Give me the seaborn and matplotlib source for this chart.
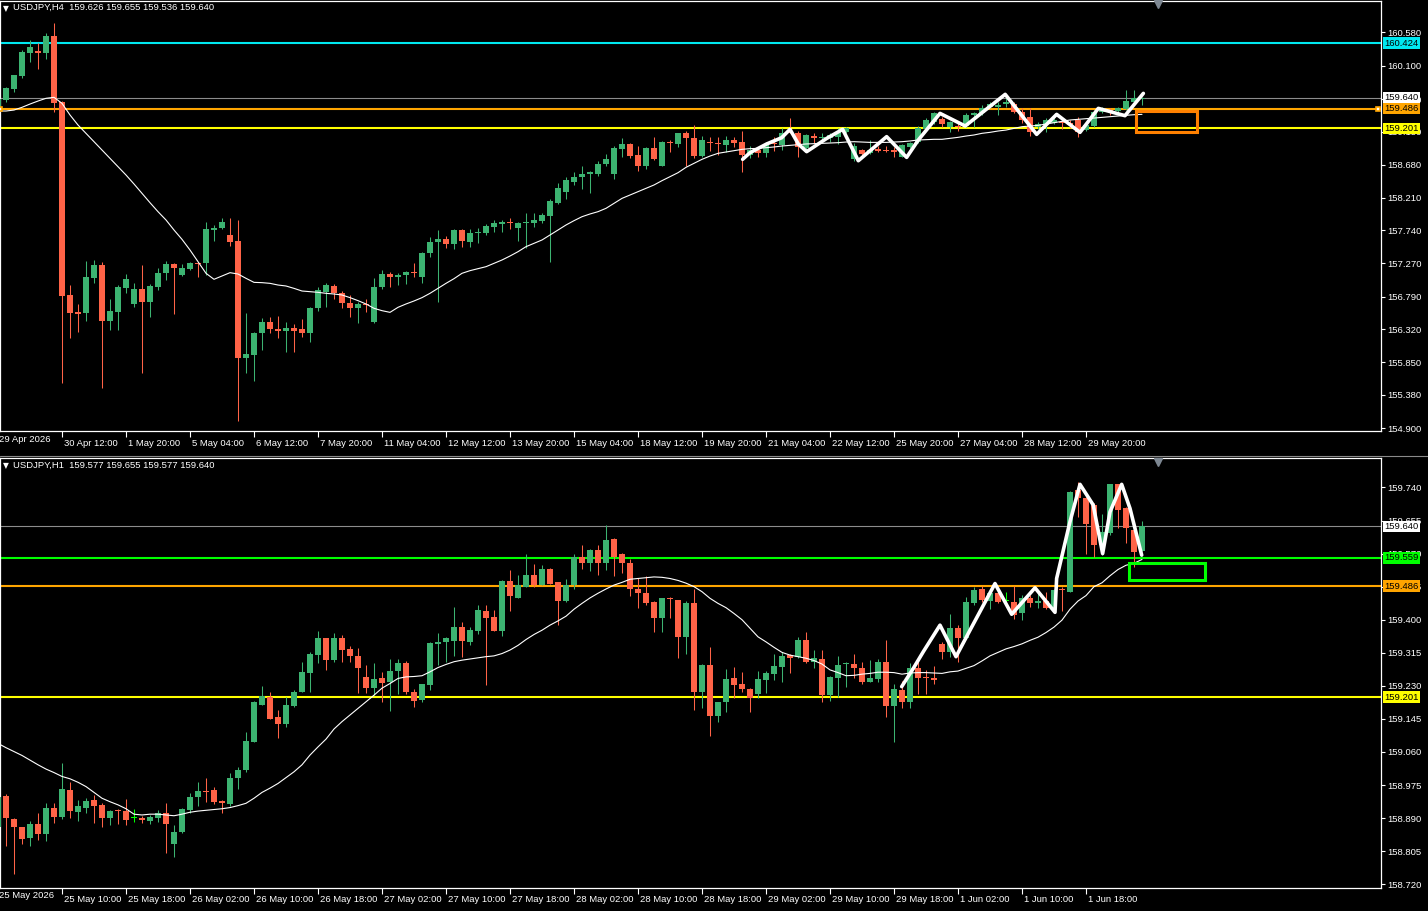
import numpy as np
import pandas as pd
import matplotlib
matplotlib.use("Agg")
import matplotlib.pyplot as plt
import matplotlib.transforms as mtransforms
from matplotlib.patches import Rectangle
import seaborn as sns

# ---------------- DATA ----------------
h4_title = "USDJPY,H4  159.626 159.655 159.536 159.640"
h1_title = "USDJPY,H1  159.577 159.655 159.577 159.640"

h4_open = [
159.470, 159.609, 159.762, 159.953, 160.288, 160.312, 160.288, 160.527, 159.585, 156.812,
156.568, 156.558, 157.060, 157.242, 156.444, 156.573, 156.917, 156.683, 156.898, 156.716,
156.931, 157.123, 157.256, 157.099, 157.190, 157.266, 157.266, 157.744, 157.778, 157.672,
157.586, 155.913, 155.951, 156.262, 156.420, 156.324, 156.300, 156.334, 156.324, 156.272,
156.621, 156.860, 156.946, 156.836, 156.692, 156.621, 156.683, 156.429, 156.922, 157.113,
157.075, 157.099, 157.142, 157.065, 157.409, 157.567, 157.615, 157.538, 157.744, 157.567,
157.696, 157.706, 157.792, 157.830, 157.854, 157.778, 157.840, 157.849, 157.873, 157.950,
158.136, 158.294, 158.437, 158.500, 158.547, 158.547, 158.691, 158.547, 158.906, 158.978,
158.820, 158.662, 158.925, 158.662, 159.006, 158.978, 159.131, 159.059, 158.810, 158.997,
158.987, 158.963, 159.035, 159.006, 158.820, 158.892, 158.853, 158.997, 158.963, 159.155,
159.140, 158.915, 159.097, 159.064, 159.059, 159.083, 159.155, 158.758, 158.892, 158.844,
158.901, 158.892, 158.892, 158.796, 158.939, 159.011, 159.197, 159.298, 159.336, 159.226,
159.236, 159.236, 159.394, 159.417, 159.504, 159.513, 159.552, 159.552, 159.441, 159.360,
159.226, 159.265, 159.284, 159.298, 159.274, 159.322, 159.178, 159.236, 159.441, 159.465,
159.456, 159.480, 159.585, 159.626]
h4_high = [
159.660, 159.790, 159.970, 160.326, 160.469, 160.421, 160.575, 160.718, 159.590, 156.955,
156.683, 157.299, 157.314, 157.290, 156.754, 156.950, 157.113, 156.979, 157.242, 156.970,
157.204, 157.304, 157.276, 157.252, 157.290, 157.285, 157.854, 157.816, 157.911, 157.911,
157.888, 156.549, 156.286, 156.477, 156.501, 156.510, 156.429, 156.396, 156.463, 156.645,
156.931, 156.979, 156.970, 156.870, 156.812, 156.707, 156.754, 157.060, 157.170, 157.147,
157.132, 157.161, 157.266, 157.433, 157.639, 157.744, 157.658, 157.754, 157.754, 157.754,
157.768, 157.830, 157.888, 157.888, 157.911, 157.864, 157.983, 157.983, 157.993, 158.184,
158.423, 158.509, 158.576, 158.662, 158.586, 158.734, 158.834, 158.949, 159.059, 158.997,
158.949, 158.939, 159.083, 159.025, 159.035, 159.140, 159.169, 159.250, 159.092, 159.083,
159.083, 159.092, 159.083, 159.164, 158.949, 158.939, 159.011, 159.083, 159.202, 159.346,
159.169, 159.121, 159.140, 159.131, 159.131, 159.202, 159.226, 158.987, 158.901, 159.035,
158.954, 158.954, 158.939, 158.978, 159.011, 159.236, 159.350, 159.440, 159.370, 159.312,
159.274, 159.427, 159.437, 159.537, 159.585, 159.585, 159.666, 159.585, 159.489, 159.489,
159.290, 159.346, 159.346, 159.322, 159.322, 159.360, 159.274, 159.465, 159.504, 159.489,
159.504, 159.752, 159.752, 159.655]
h4_low = [
159.440, 159.585, 159.728, 159.929, 160.158, 160.053, 160.202, 159.441, 155.545, 156.190,
156.286, 156.444, 156.979, 155.473, 156.310, 156.310, 156.836, 156.645, 155.688, 156.501,
156.883, 157.027, 156.535, 157.085, 157.170, 157.065, 157.094, 157.591, 157.763, 157.519,
155.010, 155.698, 155.583, 156.023, 156.272, 156.200, 155.999, 156.000, 156.214, 156.142,
156.587, 156.645, 156.754, 156.621, 156.501, 156.415, 156.573, 156.415, 156.898, 156.931,
156.955, 156.965, 157.075, 156.989, 157.362, 156.716, 157.481, 157.466, 157.495, 157.505,
157.553, 157.668, 157.720, 157.720, 157.763, 157.591, 157.481, 157.792, 157.849, 157.280,
158.117, 158.189, 158.390, 158.337, 158.280, 158.519, 158.662, 158.480, 158.796, 158.772,
158.595, 158.624, 158.748, 158.662, 158.868, 158.939, 158.662, 158.772, 158.796, 158.882,
158.815, 158.868, 158.939, 158.581, 158.772, 158.796, 158.796, 158.882, 158.892, 159.131,
158.796, 158.868, 158.997, 159.011, 159.001, 158.978, 159.131, 158.738, 158.786, 158.834,
158.868, 158.868, 158.796, 158.786, 158.915, 158.987, 159.170, 159.270, 159.226, 159.155,
159.169, 159.226, 159.226, 159.394, 159.489, 159.394, 159.513, 159.417, 159.274, 159.092,
159.200, 159.155, 159.265, 159.188, 159.202, 159.083, 159.169, 159.226, 159.427, 159.394,
159.417, 159.465, 159.585, 159.536]
h4_close = [
159.630, 159.776, 159.967, 160.302, 160.374, 160.288, 160.527, 159.570, 156.802, 156.558,
156.544, 157.075, 157.242, 156.444, 156.582, 156.931, 157.046, 156.898, 156.716, 156.941,
157.123, 157.252, 157.194, 157.204, 157.266, 157.256, 157.754, 157.773, 157.854, 157.577,
155.913, 155.961, 156.262, 156.420, 156.324, 156.300, 156.334, 156.300, 156.272, 156.621,
156.883, 156.955, 156.836, 156.692, 156.621, 156.683, 156.669, 156.931, 157.113, 157.075,
157.099, 157.142, 157.132, 157.409, 157.567, 157.615, 157.538, 157.744, 157.591, 157.696,
157.720, 157.802, 157.849, 157.854, 157.840, 157.849, 157.864, 157.888, 157.959, 158.165,
158.342, 158.461, 158.500, 158.547, 158.571, 158.691, 158.758, 158.925, 158.978, 158.810,
158.662, 158.925, 158.762, 159.011, 158.987, 159.131, 159.059, 158.810, 159.035, 158.987,
158.978, 159.035, 158.987, 158.820, 158.892, 158.853, 158.978, 158.978, 159.140, 159.140,
158.939, 159.107, 159.059, 159.083, 159.107, 159.155, 159.212, 158.954, 158.834, 158.892,
158.882, 158.882, 158.868, 158.958, 158.987, 159.202, 159.322, 159.417, 159.265, 159.289,
159.217, 159.394, 159.417, 159.489, 159.552, 159.537, 159.585, 159.441, 159.322, 159.155,
159.265, 159.322, 159.322, 159.274, 159.250, 159.155, 159.250, 159.441, 159.489, 159.441,
159.489, 159.599, 159.642, 159.640]
h4_ma = [
159.451, 159.451, 159.465, 159.504, 159.551, 159.594, 159.633, 159.647, 159.561, 159.394,
159.250, 159.131, 159.011, 158.892, 158.772, 158.652, 158.533, 158.404, 158.270, 158.136,
158.007, 157.888, 157.744, 157.610, 157.457, 157.290, 157.123, 157.037, 157.085, 157.132,
157.113, 157.051, 156.993, 156.989, 156.979, 156.955, 156.941, 156.907, 156.869, 156.860,
156.850, 156.836, 156.826, 156.812, 156.774, 156.731, 156.683, 156.621, 156.587, 156.563,
156.635, 156.683, 156.726, 156.774, 156.836, 156.907, 156.979, 157.046, 157.123, 157.161,
157.190, 157.218, 157.266, 157.314, 157.371, 157.433, 157.505, 157.553, 157.601, 157.672,
157.744, 157.816, 157.878, 157.935, 157.974, 158.007, 158.055, 158.127, 158.198, 158.246,
158.294, 158.342, 158.390, 158.452, 158.509, 158.566, 158.643, 158.700, 158.758, 158.805,
158.844, 158.863, 158.882, 158.901, 158.911, 158.915, 158.925, 158.935, 158.949, 158.958,
158.968, 158.978, 158.982, 158.987, 158.992, 158.997, 159.006, 159.011, 159.006, 159.001,
159.001, 159.001, 159.006, 159.011, 159.021, 159.035, 159.040, 159.045, 159.045, 159.059,
159.073, 159.092, 159.107, 159.131, 159.145, 159.164, 159.178, 159.202, 159.226, 159.236,
159.245, 159.264, 159.284, 159.303, 159.322, 159.331, 159.341, 159.350, 159.360, 159.370,
159.379, 159.389, 159.398, 159.403]

h1_open = [
158.868, 158.948, 158.888, 158.868, 158.838, 158.875, 158.849, 158.917, 158.894, 158.962,
158.905, 158.917, 158.937, 158.924, 158.891, 158.910, 158.907, 158.891, 158.891, 158.883,
158.891, 158.902, 158.823, 158.853, 158.911, 158.945, 158.960, 158.962, 158.934, 158.926,
158.992, 159.014, 159.085, 159.182, 159.202, 159.149, 159.132, 159.179, 159.215, 159.262,
159.309, 159.352, 159.296, 159.352, 159.325, 159.307, 159.253, 159.224, 159.249, 159.241,
159.269, 159.288, 159.215, 159.194, 159.232, 159.337, 159.343, 159.345, 159.382, 159.343,
159.371, 159.422, 159.406, 159.372, 159.499, 159.457, 159.485, 159.515, 159.489, 159.530,
159.496, 159.448, 159.489, 159.562, 159.547, 159.579, 159.547, 159.607, 159.569, 159.547,
159.480, 159.468, 159.446, 159.405, 159.457, 159.451, 159.356, 159.442, 159.215, 159.283,
159.153, 159.188, 159.249, 159.234, 159.222, 159.209, 159.245, 159.260, 159.279, 159.309,
159.305, 159.348, 159.290, 159.299, 159.206, 159.251, 159.285, 159.285, 159.277, 159.241,
159.247, 159.290, 159.179, 159.219, 159.188, 159.275, 159.253, 159.249, 159.337, 159.318,
159.378, 159.352, 159.442, 159.479, 159.448, 159.468, 159.447, 159.446, 159.416, 159.455,
159.442, 159.448, 159.431, 159.480, 159.472, 159.733, 159.712, 159.695, 159.592, 159.622,
159.748, 159.686, 159.630, 159.577]
h1_high = [
158.950, 158.951, 158.891, 158.868, 158.883, 158.902, 158.928, 158.928, 159.031, 158.984,
158.937, 158.941, 158.950, 158.928, 158.911, 158.914, 158.939, 158.914, 158.896, 158.898,
158.911, 158.928, 158.871, 158.915, 158.954, 158.982, 158.992, 158.971, 158.937, 159.005,
159.022, 159.112, 159.191, 159.230, 159.213, 159.168, 159.202, 159.219, 159.290, 159.318,
159.371, 159.352, 159.367, 159.360, 159.333, 159.326, 159.283, 159.288, 159.266, 159.299,
159.299, 159.294, 159.221, 159.236, 159.342, 159.367, 159.356, 159.433, 159.393, 159.382,
159.438, 159.438, 159.425, 159.502, 159.528, 159.515, 159.569, 159.542, 159.540, 159.532,
159.498, 159.504, 159.569, 159.592, 159.583, 159.592, 159.643, 159.611, 159.572, 159.557,
159.506, 159.513, 159.448, 159.457, 159.459, 159.451, 159.448, 159.480, 159.285, 159.329,
159.189, 159.273, 159.279, 159.265, 159.224, 159.268, 159.268, 159.313, 159.316, 159.311,
159.356, 159.369, 159.322, 159.322, 159.256, 159.307, 159.292, 159.311, 159.292, 159.296,
159.299, 159.348, 159.236, 159.242, 159.288, 159.292, 159.271, 159.282, 159.343, 159.414,
159.386, 159.459, 159.485, 159.487, 159.474, 159.472, 159.472, 159.487, 159.463, 159.463,
159.472, 159.472, 159.480, 159.485, 159.731, 159.753, 159.716, 159.699, 159.673, 159.750,
159.750, 159.690, 159.636, 159.655]
h1_low = [
158.860, 158.819, 158.746, 158.823, 158.819, 158.834, 158.832, 158.877, 158.888, 158.891,
158.883, 158.902, 158.877, 158.868, 158.871, 158.875, 158.871, 158.881, 158.877, 158.875,
158.879, 158.800, 158.791, 158.852, 158.902, 158.922, 158.932, 158.926, 158.902, 158.922,
158.965, 159.008, 159.085, 159.180, 159.145, 159.097, 159.125, 159.175, 159.213, 159.213,
159.288, 159.271, 159.290, 159.290, 159.290, 159.211, 159.211, 159.206, 159.188, 159.166,
159.208, 159.208, 159.176, 159.189, 159.219, 159.283, 159.290, 159.307, 159.305, 159.335,
159.362, 159.232, 159.372, 159.358, 159.422, 159.456, 159.483, 159.483, 159.489, 159.491,
159.386, 159.446, 159.479, 159.530, 159.526, 159.515, 159.528, 159.513, 159.519, 159.462,
159.431, 159.438, 159.369, 159.369, 159.405, 159.302, 159.311, 159.168, 159.172, 159.102,
159.138, 159.164, 159.198, 159.213, 159.162, 159.198, 159.211, 159.245, 159.241, 159.262,
159.302, 159.288, 159.275, 159.188, 159.192, 159.202, 159.226, 159.251, 159.236, 159.239,
159.241, 159.151, 159.085, 159.172, 159.172, 159.208, 159.208, 159.236, 159.299, 159.305,
159.290, 159.350, 159.438, 159.446, 159.427, 159.442, 159.442, 159.402, 159.399, 159.433,
159.431, 159.427, 159.429, 159.422, 159.472, 159.665, 159.570, 159.562, 159.566, 159.617,
159.636, 159.596, 159.536, 159.577]
h1_close = [
158.945, 158.890, 158.866, 158.836, 158.875, 158.849, 158.917, 158.894, 158.965, 158.907,
158.920, 158.934, 158.922, 158.891, 158.908, 158.908, 158.885, 158.891, 158.885, 158.894,
158.902, 158.875, 158.853, 158.914, 158.945, 158.960, 158.958, 158.932, 158.928, 158.994,
159.014, 159.087, 159.189, 159.205, 159.146, 159.132, 159.181, 159.215, 159.265, 159.311,
159.352, 159.296, 159.352, 159.322, 159.307, 159.277, 159.224, 159.248, 159.238, 159.269,
159.288, 159.213, 159.192, 159.234, 159.339, 159.342, 159.352, 159.382, 159.346, 159.373,
159.425, 159.405, 159.372, 159.499, 159.462, 159.489, 159.515, 159.489, 159.530, 159.491,
159.449, 159.489, 159.562, 159.547, 159.579, 159.547, 159.605, 159.562, 159.547, 159.480,
159.468, 159.442, 159.405, 159.455, 159.453, 159.356, 159.442, 159.215, 159.283, 159.153,
159.188, 159.248, 159.232, 159.222, 159.198, 159.248, 159.262, 159.282, 159.307, 159.302,
159.348, 159.290, 159.302, 159.206, 159.253, 159.283, 159.289, 159.277, 159.241, 159.249,
159.290, 159.179, 159.222, 159.188, 159.275, 159.251, 159.249, 159.245, 159.318, 159.378,
159.352, 159.446, 159.476, 159.451, 159.468, 159.446, 159.447, 159.412, 159.455, 159.442,
159.448, 159.431, 159.476, 159.476, 159.729, 159.712, 159.647, 159.592, 159.626, 159.750,
159.682, 159.635, 159.575, 159.640]
h1_ma = [
159.082, 159.071, 159.061, 159.051, 159.039, 159.027, 159.016, 159.007, 158.997, 158.991,
158.982, 158.971, 158.956, 158.941, 158.932, 158.924, 158.914, 158.900, 158.898, 158.900,
158.900, 158.898, 158.896, 158.900, 158.905, 158.908, 158.910, 158.912, 158.914, 158.917,
158.922, 158.928, 158.941, 158.956, 158.967, 158.979, 158.994, 159.009, 159.027, 159.052,
159.073, 159.093, 159.119, 159.138, 159.155, 159.172, 159.189, 159.206, 159.224, 159.236,
159.249, 159.253, 159.254, 159.256, 159.266, 159.277, 159.285, 159.292, 159.296, 159.299,
159.302, 159.305, 159.307, 159.313, 159.322, 159.334, 159.349, 159.362, 159.373, 159.386,
159.397, 159.409, 159.427, 159.442, 159.456, 159.468, 159.479, 159.489, 159.496, 159.504,
159.506, 159.508, 159.510, 159.509, 159.506, 159.501, 159.494, 159.485, 159.472, 159.455,
159.442, 159.431, 159.416, 159.400, 159.378, 159.356, 159.343, 159.329, 159.316, 159.309,
159.305, 159.301, 159.295, 159.286, 159.271, 159.264, 159.256, 159.257, 159.260, 159.262,
159.265, 159.265, 159.264, 159.260, 159.263, 159.264, 159.264, 159.263, 159.262, 159.266,
159.268, 159.275, 159.282, 159.294, 159.307, 159.316, 159.325, 159.331, 159.338, 159.347,
159.355, 159.367, 159.381, 159.399, 159.427, 159.448, 159.462, 159.485, 159.495, 159.513,
159.529, 159.540, 159.545, 159.555]

# hand-drawn zigzag annotations (bar index, price)
h4_zz_x = [93.08, 94.0, 96.08, 97.96, 99.0, 100.04, 101.08, 103.6, 105.58, 107.54, 111.08,
           113.58, 115.04, 117.75, 120.9, 125.9, 129.83, 132.33, 135.25, 137.54, 140.875, 143.17]
h4_zz_y = [158.758, 158.853, 158.978, 159.068, 159.188, 158.978, 158.868, 159.059, 159.188,
           158.738, 159.083, 158.786, 159.035, 159.417, 159.236, 159.690, 159.116, 159.403,
           159.145, 159.489, 159.384, 159.704]
h1_zz_x = [112.96, 114.42, 115.67, 117.75, 119.75, 121.5, 124.625, 126.71, 129.625, 132.125,
           132.33, 134.0, 135.25, 136.9, 138.08, 139.0, 140.46, 141.5, 142.96]
h1_zz_y = [159.228, 159.275, 159.318, 159.386, 159.305, 159.373, 159.493, 159.414, 159.482,
           159.419, 159.506, 159.652, 159.748, 159.695, 159.570, 159.677, 159.748, 159.686,
           159.566]

# rectangles: (x0, x1, y0, y1)
h4_box = (142.3, 149.9, 159.155, 159.451)
h1_box = (141.4, 150.9, 159.502, 159.545)

# horizontal levels
bid_price = 159.640
h4_levels = [160.424, 159.486, 159.201]
h4_level_labels = ["160.424", "159.486", "159.201"]
h1_levels = [159.559, 159.486, 159.201]
h1_level_labels = ["159.559", "159.486", "159.201"]

h4_yticks = [154.900, 155.380, 155.850, 156.320, 156.790, 157.270, 157.740, 158.210,
             158.680, 159.150, 159.620, 160.100, 160.580]
h1_yticks = [158.720, 158.805, 158.890, 158.975, 159.060, 159.145, 159.230, 159.315,
             159.400, 159.485, 159.570, 159.655, 159.740]

h4_xtick_pos = [8, 16, 24, 32, 40, 48, 56, 64, 72, 80, 88, 96, 104, 112, 120, 128, 136]
h4_xtick_lab = ["30 Apr 12:00", "1 May 20:00", "5 May 04:00", "6 May 12:00", "7 May 20:00",
                "11 May 04:00", "12 May 12:00", "13 May 20:00", "15 May 04:00", "18 May 12:00",
                "19 May 20:00", "21 May 04:00", "22 May 12:00", "25 May 20:00", "27 May 04:00",
                "28 May 12:00", "29 May 20:00"]
h4_first_label = "29 Apr 2026"
h1_xtick_pos = [8, 16, 24, 32, 40, 48, 56, 64, 72, 80, 88, 96, 104, 112, 120, 128, 136]
h1_xtick_lab = ["25 May 10:00", "25 May 18:00", "26 May 02:00", "26 May 10:00", "26 May 18:00",
                "27 May 02:00", "27 May 10:00", "27 May 18:00", "28 May 02:00", "28 May 10:00",
                "28 May 18:00", "29 May 02:00", "29 May 10:00", "29 May 18:00", "1 Jun 02:00",
                "1 Jun 10:00", "1 Jun 18:00"]
h1_first_label = "25 May 2026"

# ---------------- STYLE ----------------
sns.set_theme(style="dark")
plt.rcParams['font.family'] = ['Liberation Sans', 'DejaVu Sans']
plt.rcParams['axes.facecolor'] = 'black'
plt.rcParams['figure.facecolor'] = 'black'

UP = '#3CB371'
DN = '#FF6347'
DOJI = '#00FF00'
FS = 6.8

W, H = 1428, 911
fig = plt.figure(figsize=(W / 100, H / 100), dpi=100, facecolor='black')


def px_axes(x0, y0, x1, y1):
    return fig.add_axes([x0 / W, 1 - y1 / H, (x1 - x0) / W, (y1 - y0) / H])


ax1 = px_axes(0, 1, 1381, 431)
ax2 = px_axes(0, 458.3, 1381, 887.7)


def draw_panel(ax, o, h, l, c, ma, ylim, yticks, xpos, xlab, first_lab, title,
               zzx, zzy, box, box_color, levels, level_colors, level_labels, level_text_colors):
    o, h, l, c = map(np.asarray, (o, h, l, c))
    idx = np.arange(len(o))
    ax.set_facecolor('black')
    ax.set_xlim(0.25, 172.875)
    ax.set_ylim(*ylim)
    px = (ylim[1] - ylim[0]) / 430.0
    cols = np.where(c > o, UP, np.where(c < o, DN, DOJI))
    # horizontal levels
    ax.axhline(bid_price, color='#8c8c8c', lw=0.8, zorder=1)
    for lv, lc in zip(levels, level_colors):
        ax.axhline(lv, color=lc, lw=1.5, zorder=2)
    # wicks
    ax.vlines(idx, l, h, colors=cols, lw=0.75, zorder=3)
    # bodies
    bottoms = np.minimum(o, c)
    heights = np.maximum(np.abs(c - o), px)
    ax.bar(idx, heights, bottom=bottoms, width=0.64, color=cols, linewidth=0, zorder=4)
    # moving average
    sns.lineplot(x=idx, y=np.asarray(ma), ax=ax, color='white', lw=0.8, zorder=5,
                 legend=False)
    # zigzag
    sns.lineplot(x=np.asarray(zzx), y=np.asarray(zzy), ax=ax, color='white', lw=2.6,
                 sort=False, zorder=6, legend=False, solid_capstyle='round',
                 solid_joinstyle='round')
    # rectangle
    ax.add_patch(Rectangle((box[0], box[2]), box[1] - box[0], box[3] - box[2], fill=False,
                           edgecolor=box_color, lw=2.2, zorder=6))
    # axes styling
    ax.grid(False)
    ax.set_xlabel('')
    ax.set_ylabel('')
    for sp in ax.spines.values():
        sp.set_color('white')
        sp.set_linewidth(0.9)
        sp.set_visible(True)
    ax.yaxis.tick_right()
    ax.set_yticks(yticks)
    ax.set_yticklabels([f"{v:.3f}" for v in yticks])
    ax.tick_params(axis='y', which='both', right=True, left=False, direction='out', length=3,
                   width=0.8, color='white', labelcolor='white', labelsize=FS, pad=1.5)
    ax.set_xticks(xpos)
    ax.set_xticklabels(xlab)
    ax.tick_params(axis='x', which='both', bottom=True, direction='out', length=4, width=0.8,
                   color='white', labelcolor='white', labelsize=FS, pad=1.5)
    offs = mtransforms.ScaledTranslation(2 / 100, 0, fig.dpi_scale_trans)
    for t in ax.get_xticklabels():
        t.set_horizontalalignment('left')
        t.set_transform(t.get_transform() + offs)
    tr_x = ax.get_xaxis_transform()
    ax.text(-0.001, -0.0085, first_lab, transform=ax.transAxes, ha='left', va='top',
            color='white', fontsize=FS, clip_on=False)
    # title
    ax.text(0.0025, 0.993, "\u25BC", transform=ax.transAxes, ha='left', va='top',
            color='white', fontsize=5.5, family='DejaVu Sans')
    ax.text(0.0094, 0.995, title, transform=ax.transAxes, ha='left', va='top',
            color='white', fontsize=FS)
    # chart shift marker
    ax.plot([145.0], [0.992], marker='v', color='#7d8792', markersize=6,
            transform=tr_x, clip_on=False, zorder=7)
    # price label boxes on the right
    tr = mtransforms.blended_transform_factory(ax.transAxes, ax.transData)
    lab_vals = [bid_price] + list(levels)
    lab_cols = ['white'] + list(level_colors)
    lab_txt = [f"{bid_price:.3f}"] + list(level_labels)
    for v, bc, tx, tc in zip(lab_vals, lab_cols, lab_txt, ['black'] + list(level_text_colors)):
        ax.text(1.0026, v, tx, transform=tr, ha='left', va='center', color=tc, fontsize=FS,
                bbox=dict(boxstyle='square,pad=0.14', fc=bc, ec='none'), clip_on=False,
                zorder=10)


draw_panel(ax1, h4_open, h4_high, h4_low, h4_close, h4_ma, (154.861, 161.029), h4_yticks,
           h4_xtick_pos, h4_xtick_lab, h4_first_label, h4_title, h4_zz_x, h4_zz_y,
           h4_box, '#FF8000', h4_levels, ['#00E8F0', '#FFA500', '#FFFF00'],
           h4_level_labels, ['black', 'black', 'black'])
draw_panel(ax2, h1_open, h1_high, h1_low, h1_close, h1_ma, (158.711, 159.815), h1_yticks,
           h1_xtick_pos, h1_xtick_lab, h1_first_label, h1_title, h1_zz_x, h1_zz_y,
           h1_box, '#00FF00', h1_levels, ['#00FF00', '#FFA500', '#FFFF00'],
           h1_level_labels, ['black', 'black', 'black'])

# line anchors on the orange level (top panel)
ax1.plot([0.3, 172.5], [159.486, 159.486], ls='none', marker='s', markersize=3.5,
         mfc='white', mec='#FFA500', mew=1.2, zorder=8, clip_on=False)

# separator between the two panes
fig.add_artist(plt.Line2D([0, 1], [1 - 455.8 / H, 1 - 455.8 / H], color='#8a8a8a', lw=0.8))

fig.savefig('out.png', dpi=100, facecolor='black')
